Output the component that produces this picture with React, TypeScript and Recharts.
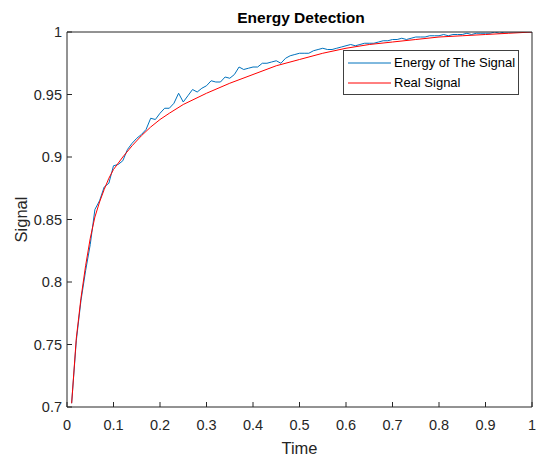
import React from 'react';
import { LineChart, Line, XAxis, YAxis } from 'recharts';

const timeValues = [
  0.01, 0.02, 0.03, 0.04, 0.05, 0.06, 0.07, 0.08, 0.09, 0.1,
  0.11, 0.12, 0.13, 0.14, 0.15, 0.16, 0.17, 0.18, 0.19, 0.2,
  0.21, 0.22, 0.23, 0.24, 0.25, 0.26, 0.27, 0.28, 0.29, 0.3,
  0.31, 0.32, 0.33, 0.34, 0.35, 0.36, 0.37, 0.38, 0.39, 0.4,
  0.41, 0.42, 0.43, 0.44, 0.45, 0.46, 0.47, 0.48, 0.49, 0.5,
  0.51, 0.52, 0.53, 0.54, 0.55, 0.56, 0.57, 0.58, 0.59, 0.6,
  0.61, 0.62, 0.63, 0.64, 0.65, 0.66, 0.67, 0.68, 0.69, 0.7,
  0.71, 0.72, 0.73, 0.74, 0.75, 0.76, 0.77, 0.78, 0.79, 0.8,
  0.81, 0.82, 0.83, 0.84, 0.85, 0.86, 0.87, 0.88, 0.89, 0.9,
  0.91, 0.92, 0.93, 0.94, 0.95, 0.96, 0.97, 0.98, 0.99, 1.0,
];

const energyValues = [
  0.703, 0.753, 0.785, 0.809, 0.830, 0.858, 0.865, 0.876, 0.879, 0.893,
  0.894, 0.897, 0.906, 0.911, 0.915, 0.918, 0.922, 0.931, 0.930, 0.935,
  0.939, 0.939, 0.943, 0.951, 0.944, 0.949, 0.954, 0.952, 0.955, 0.957,
  0.961, 0.960, 0.960, 0.964, 0.963, 0.966, 0.972, 0.970, 0.971, 0.972,
  0.972, 0.975, 0.975, 0.976, 0.977, 0.975, 0.979, 0.981, 0.982, 0.983,
  0.983, 0.983, 0.985, 0.986, 0.987, 0.986, 0.986, 0.987, 0.988, 0.989,
  0.990, 0.989, 0.990, 0.991, 0.991, 0.991, 0.992, 0.993, 0.993, 0.994,
  0.994, 0.995, 0.994, 0.995, 0.996, 0.996, 0.996, 0.997, 0.997, 0.997,
  0.998, 0.997, 0.998, 0.998, 0.998, 0.999, 0.998, 0.999, 0.999, 0.999,
  0.999, 1.0, 0.999, 1.0, 1.0, 1.0, 1.0, 1.0, 1.0, 1.0,
];

const realTime = [
  0.01, 0.02, 0.03, 0.04, 0.05, 0.06, 0.07, 0.08, 0.09, 0.1,
  0.12, 0.14, 0.16, 0.18, 0.2, 0.22, 0.25, 0.3, 0.35, 0.4,
  0.45, 0.5, 0.55, 0.6, 0.65, 0.7, 0.75, 0.8, 0.85, 0.9, 0.95, 1.0,
];

const realValues = [
  0.703, 0.755, 0.787, 0.813, 0.835, 0.852, 0.864, 0.874, 0.883, 0.890,
  0.900, 0.909, 0.917, 0.924, 0.930, 0.935, 0.942, 0.951, 0.959, 0.966,
  0.973, 0.978, 0.983, 0.987, 0.990, 0.992, 0.994, 0.996, 0.997, 0.998, 0.999, 1.0,
];

const xTicks = [0, 0.1, 0.2, 0.3, 0.4, 0.5, 0.6, 0.7, 0.8, 0.9, 1];
const yTicks = [0.7, 0.75, 0.8, 0.85, 0.9, 0.95, 1];

const seriesNames = ['Energy of The Signal', 'Real Signal'];
const seriesColors = ['#0072BD', '#FF0000'];

const energyData = timeValues.map((t, i) => ({ time: t, energy: energyValues[i] }));
const realData = realTime.map((t, i) => ({ time: t, real: realValues[i] }));

const FONT = '"Liberation Sans", Arial, Helvetica, sans-serif';
const AXIS = '#262626';

const tickStyle = { fontSize: 14.5, fill: AXIS, fontFamily: FONT };

const YLabel = (props: any) => {
  const vb = props.viewBox || {};
  const cx = vb.x + 27;
  const cy = vb.y + vb.height / 2;
  return (
    <text
      x={cx}
      y={cy}
      transform={`rotate(-90, ${cx}, ${cy})`}
      textAnchor="middle"
      fontSize={16.5}
      fill={AXIS}
      fontFamily={FONT}
    >
      Signal
    </text>
  );
};

export default function App() {
  return (
    <div style={{ position: 'absolute', left: 0, top: 0, width: 542, height: 457, background: '#fff' }}>
      <div
        style={{
          position: 'absolute',
          left: 67,
          width: 468,
          top: 9,
          textAlign: 'center',
          fontFamily: FONT,
          fontWeight: 'bold',
          fontSize: 15.5,
          color: '#000',
          lineHeight: '18px',
        }}
      >
        Energy Detection
      </div>
      <LineChart width={542} height={457} margin={{ top: 31, right: 0, bottom: 0, left: 0 }}>
        <XAxis
          dataKey="time"
          type="number"
          domain={[0, 1]}
          ticks={xTicks}
          allowDataOverflow
          height={50}
          tickSize={-5}
          tickMargin={18}
          stroke={AXIS}
          tick={tickStyle}
          tickLine={{ stroke: AXIS }}
          axisLine={{ stroke: AXIS }}
          label={{ value: 'Time', position: 'insideBottom', offset: 3, fontSize: 16.5, fill: AXIS, fontFamily: FONT }}
        />
        <XAxis
          xAxisId="top"
          orientation="top"
          dataKey="time"
          type="number"
          domain={[0, 1]}
          ticks={xTicks}
          allowDataOverflow
          height={1}
          tickSize={-5}
          tick={false}
          stroke={AXIS}
          tickLine={{ stroke: AXIS }}
          axisLine={{ stroke: AXIS }}
        />
        <YAxis
          type="number"
          domain={[0.7, 1]}
          ticks={yTicks}
          allowDataOverflow
          width={67}
          tickSize={-5}
          tickMargin={10}
          stroke={AXIS}
          tick={tickStyle}
          tickLine={{ stroke: AXIS }}
          axisLine={{ stroke: AXIS }}
          label={<YLabel />}
        />
        <YAxis
          yAxisId="right"
          orientation="right"
          type="number"
          domain={[0.7, 1]}
          ticks={yTicks}
          allowDataOverflow
          width={10}
          tickSize={-5}
          tick={false}
          stroke={AXIS}
          tickLine={{ stroke: AXIS }}
          axisLine={{ stroke: AXIS }}
        />
        <Line
          data={energyData}
          dataKey="energy"
          name={seriesNames[0]}
          stroke={seriesColors[0]}
          strokeWidth={1}
          dot={false}
          type="linear"
          isAnimationActive={false}
        />
        <Line
          data={realData}
          dataKey="real"
          name={seriesNames[1]}
          stroke={seriesColors[1]}
          strokeWidth={1}
          dot={false}
          type="linear"
          isAnimationActive={false}
        />
      </LineChart>
      <div
        style={{
          position: 'absolute',
          left: 343,
          top: 50,
          width: 174,
          height: 43,
          border: '1px solid #404040',
          background: '#fff',
          fontFamily: FONT,
          fontSize: 13,
          color: '#000',
        }}
      >
        {seriesNames.map((name, i) => (
          <div
            key={name}
            style={{
              position: 'absolute',
              left: 4,
              top: 4 + i * 19.5,
              height: 16,
              display: 'flex',
              alignItems: 'center',
              whiteSpace: 'nowrap',
            }}
          >
            <svg width={43} height={16} style={{ display: 'block' }}>
              <line x1={0} y1={8} x2={43} y2={8} stroke={seriesColors[i]} strokeWidth={1} />
            </svg>
            <span style={{ marginLeft: 3, lineHeight: '16px' }}>{name}</span>
          </div>
        ))}
      </div>
    </div>
  );
}
